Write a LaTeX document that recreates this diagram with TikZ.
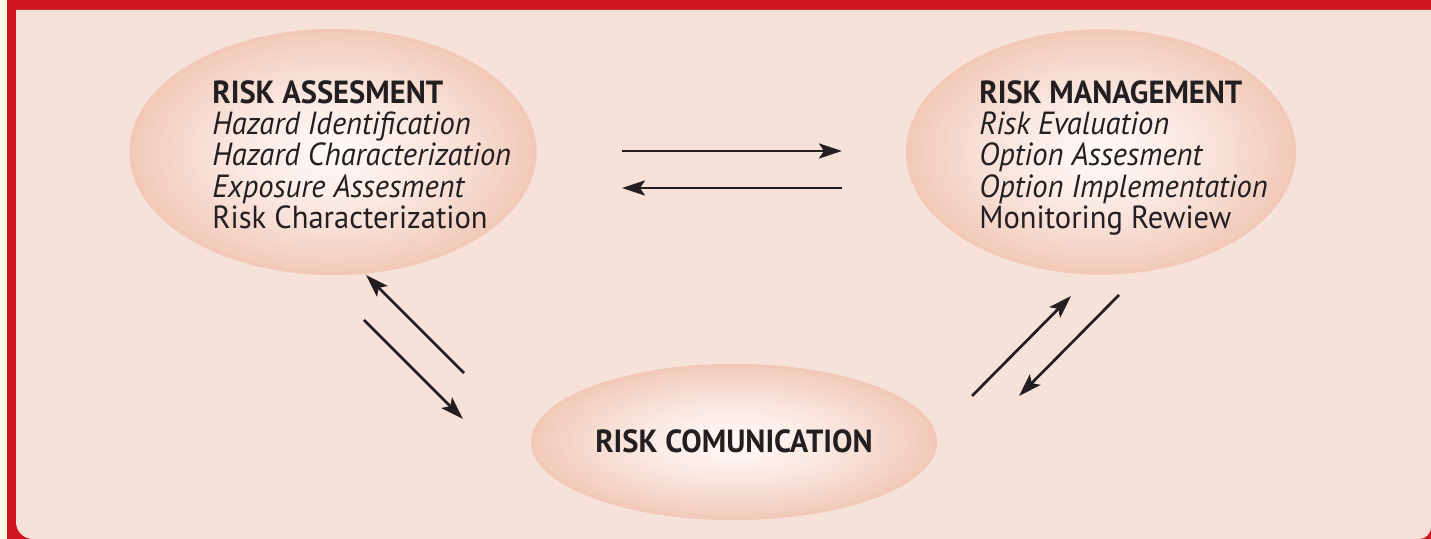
\documentclass[tikz,border=0pt]{standalone}
\usepackage{fontspec}
\setmainfont[FakeStretch=0.955]{PT Sans}
\usetikzlibrary{shapes.geometric,arrows.meta}
\definecolor{cream}{HTML}{FFFBEA}
\definecolor{framered}{HTML}{D0171F}
\definecolor{pinkbg}{HTML}{F7E2D9}
\definecolor{ellin}{HTML}{FEF8F6}
\definecolor{ellout}{HTML}{F2C9B9}
\definecolor{ink}{HTML}{231F20}
\newcommand\gradellipse[3]{%
  \foreach \k in {40,39,...,1} {%
    \pgfmathsetmacro\ff{\k/40}%
    \pgfmathtruncatemacro\pp{100*(\k/40)^1.4}%
    \fill[ellout!\pp!ellin] (#1) ellipse[x radius={#2*\ff}, y radius={#3*\ff}];
  }%
}
\tikzset{
  ell/.style={ellipse, draw=none, fill=ellout, inner sep=0pt},
  blocktext/.style={anchor=north west, inner sep=0pt, align=left, text=ink,
    font=\fontsize{16}{15.65}\selectfont},
  flow/.style={draw=ink, line width=1.35pt, -{Stealth[length=11.5pt,width=7.5pt,inset=2.5pt]}}
}
\begin{document}
\begin{tikzpicture}[x=0.5pt,y=-0.5pt]
\useasboundingbox (0,0) rectangle (1431,539);
% frame
\fill[cream] (0,0) rectangle (1431,539);
\fill[framered] (7,0) -- (1431,0) -- (1431,539) -- (35,539) arc[start angle=90, end angle=180, radius=14pt] -- cycle;
\fill[pinkbg] (16,10) -- (1431,10) -- (1431,527) arc[start angle=0, end angle=-90, radius=6pt] -- (33,539) arc[start angle=270, end angle=180, radius=8.5pt] -- cycle;
% ellipses
\node[ell, minimum width=203.5pt, minimum height=123pt] (assess) at (333,152) {};
\gradellipse{assess}{203.5}{123}
\node[ell, minimum width=195pt, minimum height=122.5pt] (manage) at (1101,152) {};
\gradellipse{manage}{195}{122.5}
\node[ell, minimum width=203pt, minimum height=78pt] (comm) at (734,442) {};
\gradellipse{comm}{203}{78}
% texts
\node[blocktext] (assesstext) at (212,80) {\textbf{RISK ASSESMENT}\\\textit{Hazard Identification}\\\textit{Hazard Characterization}\\\textit{Exposure Assesment}\\Risk Characterization};
\node[blocktext] (managetext) at (979,80) {\textbf{RISK MANAGEMENT}\\\textit{Risk Evaluation}\\\textit{Option Assesment}\\\textit{Option Implementation}\\Monitoring Rewiew};
\node[text=ink, inner sep=0pt, anchor=base, font=\fontsize{16}{16}\selectfont\bfseries] (commtext) at (734,453) {RISK COMUNICATION};
% arrow end points
\coordinate (h1s) at (622,151); \coordinate (h1e) at (842,151);
\coordinate (h2s) at (842,188); \coordinate (h2e) at (622,188);
\coordinate (d1s) at (464,373); \coordinate (d1e) at (366,275);
\coordinate (d2s) at (364,320); \coordinate (d2e) at (463,419);
\coordinate (d3s) at (972,396); \coordinate (d3e) at (1071,296);
\coordinate (d4s) at (1119,295); \coordinate (d4e) at (1019,396);
\draw[flow] (h1s) -- (h1e);
\draw[flow] (h2s) -- (h2e);
\draw[flow] (d1s) -- (d1e);
\draw[flow] (d2s) -- (d2e);
\draw[flow] (d3s) -- (d3e);
\draw[flow] (d4s) -- (d4e);
\end{tikzpicture}
\end{document}
